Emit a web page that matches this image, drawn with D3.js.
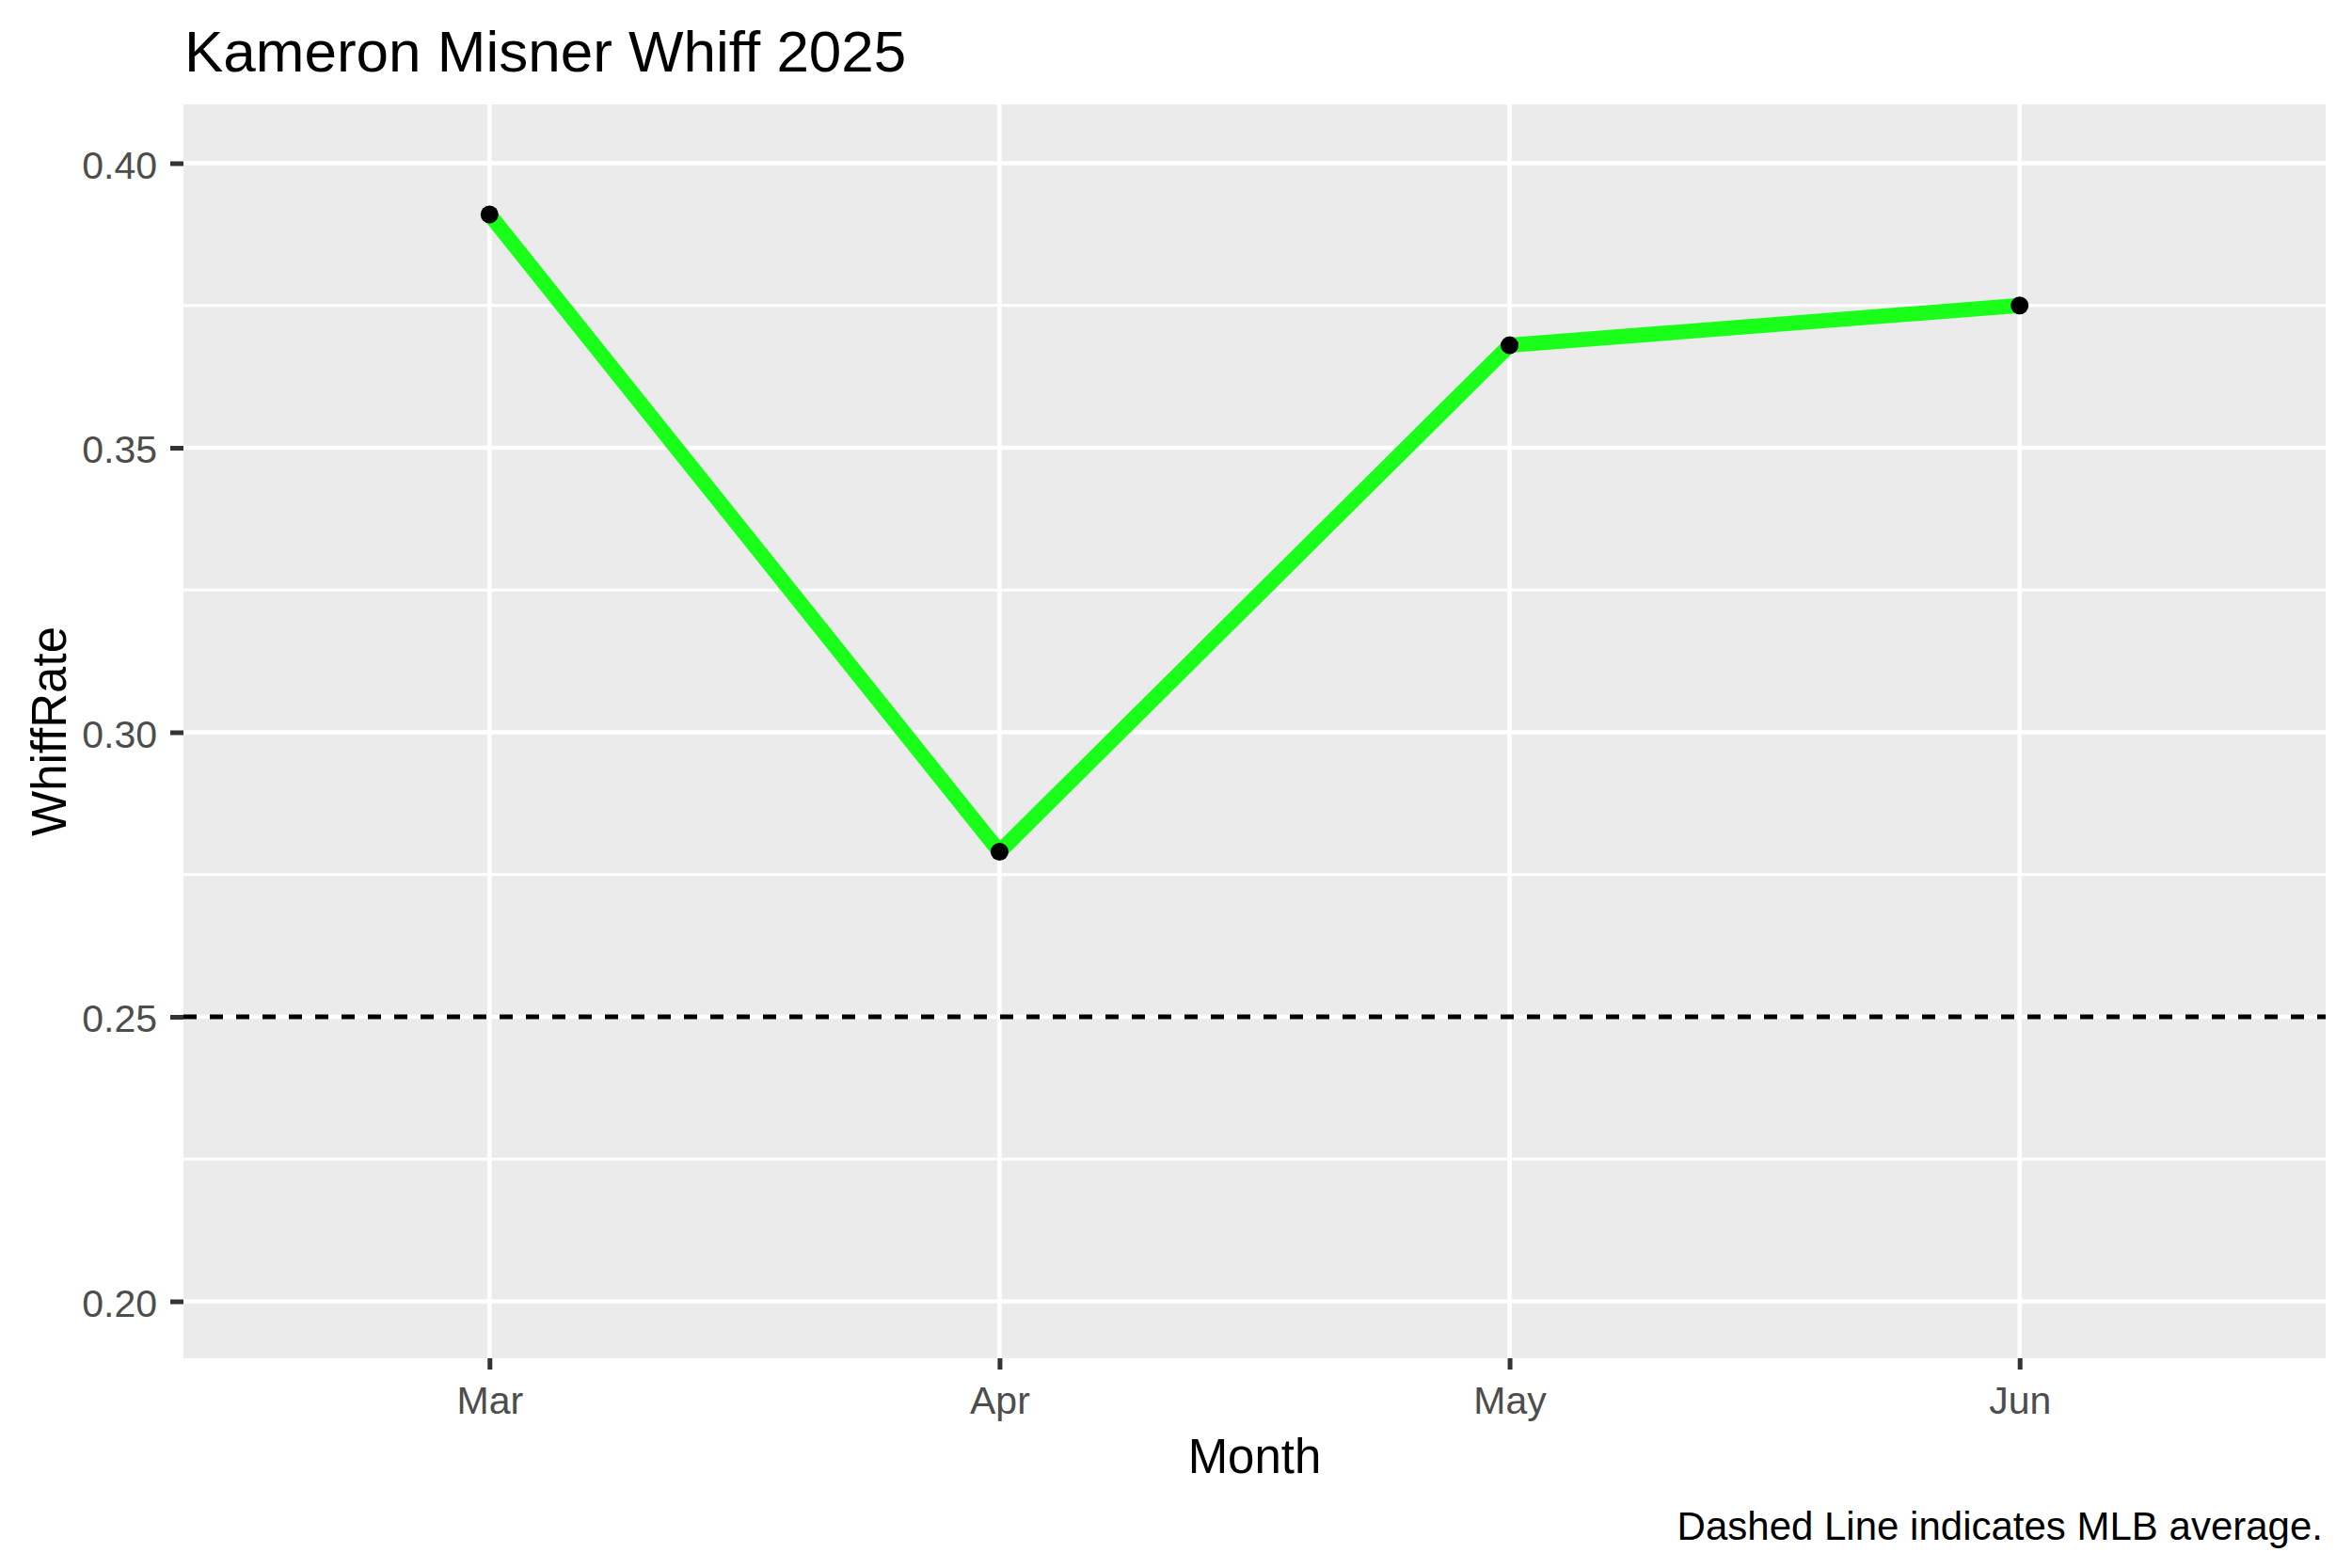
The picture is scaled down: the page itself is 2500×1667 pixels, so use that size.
<!DOCTYPE html>
<html>
<head>
<meta charset="utf-8">
<script src="https://cdn.jsdelivr.net/npm/d3@7"></script>
<style>
  body { margin: 0; background: #fff; }
  text { font-family: 'Liberation Sans', Arial, sans-serif; }
</style>
</head>
<body>
<div class="container"></div>
<script>
// data
const months = ['Mar', 'Apr', 'May', 'Jun'];
const whiffRate = [0.391, 0.279, 0.368, 0.375];
const mlbAverage = 0.25;
const yTicks = [0.20, 0.25, 0.30, 0.35, 0.40];
const yMinor = [0.225, 0.275, 0.325, 0.375];

const width = 2500;
const height = 1667;
const panel = {left: 195, right: 2472, top: 111, bottom: 1444};

const svg = d3.select('.container')
                .append('svg')
                .attr('width', width)
                .attr('height', height);

const x = d3.scalePoint()
            .domain(months)
            .range([panel.left, panel.right])
            .padding(0.6);

const y = d3.scaleLinear()
            .domain([0.19, 0.41])
            .range([panel.bottom, 113]);

// panel background
svg.append('rect')
    .attr('x', panel.left)
    .attr('y', panel.top)
    .attr('width', panel.right - panel.left)
    .attr('height', panel.bottom - panel.top)
    .attr('fill', '#ebebeb');

// minor grid
svg.append('g')
    .selectAll('line')
    .data(yMinor)
    .enter()
    .append('line')
    .attr('x1', panel.left)
    .attr('x2', panel.right)
    .attr('y1', d => y(d))
    .attr('y2', d => y(d))
    .attr('stroke', '#fff')
    .attr('stroke-width', 3);

// major grid
svg.append('g')
    .selectAll('line')
    .data(yTicks)
    .enter()
    .append('line')
    .attr('x1', panel.left)
    .attr('x2', panel.right)
    .attr('y1', d => y(d))
    .attr('y2', d => y(d))
    .attr('stroke', '#fff')
    .attr('stroke-width', 4.5);

svg.append('g')
    .selectAll('line')
    .data(months)
    .enter()
    .append('line')
    .attr('x1', d => x(d))
    .attr('x2', d => x(d))
    .attr('y1', panel.top)
    .attr('y2', panel.bottom)
    .attr('stroke', '#fff')
    .attr('stroke-width', 4.5);

// MLB average
svg.append('line')
    .attr('x1', panel.left)
    .attr('x2', panel.right)
    .attr('y1', y(mlbAverage))
    .attr('y2', y(mlbAverage))
    .attr('stroke', '#000')
    .attr('stroke-width', 5)
    .attr('stroke-dasharray', '14 14');

const line = d3.line()
                .x((d, i) => x(months[i]))
                .y(d => y(d));

svg.append('path')
    .datum(whiffRate)
    .attr('d', line)
    .attr('fill', 'none')
    .attr('stroke', '#1aff1a')
    .attr('stroke-width', 16)
    .attr('stroke-linejoin', 'round');

svg.append('g')
    .selectAll('circle')
    .data(whiffRate)
    .enter()
    .append('circle')
    .attr('cx', (d, i) => x(months[i]))
    .attr('cy', d => y(d))
    .attr('r', 9.5)
    .attr('fill', '#000');

// axes
const yAxis = svg.append('g')
    .attr('transform', `translate(${panel.left},0)`)
    .call(d3.axisLeft(y).tickValues(yTicks).tickSize(14).tickPadding(14).tickFormat(d3.format('.2f')));
yAxis.select('.domain').remove();
yAxis.selectAll('line').attr('stroke', '#333').attr('stroke-width', 5);
yAxis.selectAll('text')
    .attr('font-size', 41)
    .attr('fill', '#4d4d4d')
    .attr('dy', '0.38em')
    .style('font-family', "'Liberation Sans', Arial, sans-serif");

const xAxis = svg.append('g')
    .attr('transform', `translate(0,${panel.bottom})`)
    .call(d3.axisBottom(x).tickSize(12));
xAxis.select('.domain').remove();
xAxis.selectAll('line').attr('stroke', '#333').attr('stroke-width', 5);
xAxis.selectAll('text')
    .attr('font-size', 41)
    .attr('fill', '#4d4d4d')
    .attr('y', 59)
    .attr('dy', 0)
    .style('font-family', "'Liberation Sans', Arial, sans-serif");

// titles
svg.append('text')
    .attr('x', 196)
    .attr('y', 76)
    .attr('font-size', 62)
    .attr('fill', '#000')
    .text('Kameron Misner Whiff 2025');

svg.append('text')
    .attr('x', (panel.left + panel.right) / 2)
    .attr('y', 1566)
    .attr('text-anchor', 'middle')
    .attr('font-size', 51)
    .attr('fill', '#000')
    .text('Month');

svg.append('text')
    .attr('transform', `translate(70,${(panel.top + panel.bottom) / 2}) rotate(-90)`)
    .attr('text-anchor', 'middle')
    .attr('font-size', 51)
    .attr('fill', '#000')
    .text('WhiffRate');

svg.append('text')
    .attr('x', 2469)
    .attr('y', 1637)
    .attr('text-anchor', 'end')
    .attr('font-size', 42)
    .attr('fill', '#000')
    .text('Dashed Line indicates MLB average.');
</script>
</body>
</html>
